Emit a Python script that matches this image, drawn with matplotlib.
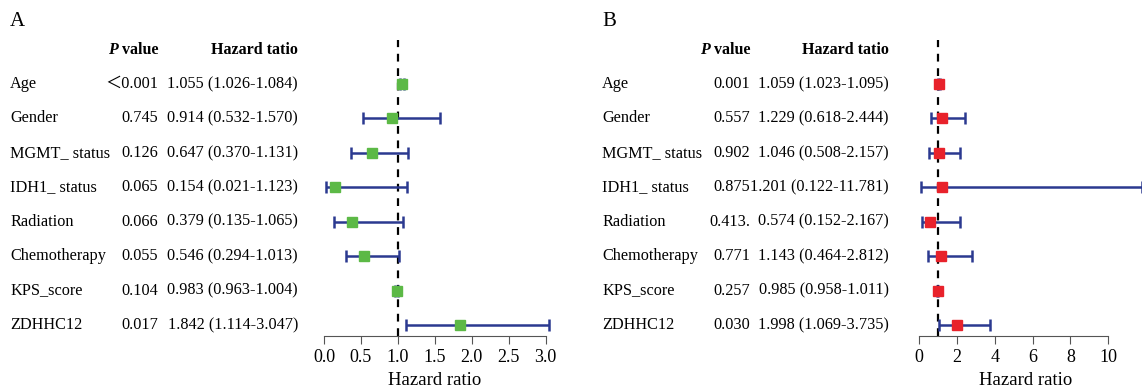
import numpy as np
import matplotlib.pyplot as plt
from matplotlib import transforms

plt.rcParams["font.family"] = ["Liberation Serif", "Noto Sans CJK SC", "DejaVu Serif"]

variables = ["Age", "Gender", "MGMT_ status", "IDH1_ status", "Radiation",
             "Chemotherapy", "KPS_score", "ZDHHC12"]

# Panel A
pval_a = ["＜0.001", "0.745", "0.126", "0.065", "0.066", "0.055", "0.104", "0.017"]
hr_a = [1.055, 0.914, 0.647, 0.154, 0.379, 0.546, 0.983, 1.842]
lo_a = [1.026, 0.532, 0.370, 0.021, 0.135, 0.294, 0.963, 1.114]
hi_a = [1.084, 1.570, 1.131, 1.123, 1.065, 1.013, 1.004, 3.047]
hr_text_a = ["1.055 (1.026-1.084)", "0.914 (0.532-1.570)", "0.647 (0.370-1.131)",
             "0.154 (0.021-1.123)", "0.379 (0.135-1.065)", "0.546 (0.294-1.013)",
             "0.983 (0.963-1.004)", "1.842 (1.114-3.047)"]

# Panel B
pval_b = ["0.001", "0.557", "0.902", "0.875", "0.413.", "0.771", "0.257", "0.030"]
hr_b = [1.059, 1.229, 1.046, 1.201, 0.574, 1.143, 0.985, 1.998]
lo_b = [1.023, 0.618, 0.508, 0.122, 0.152, 0.464, 0.958, 1.069]
hi_b = [1.095, 2.444, 2.157, 11.781, 2.167, 2.812, 1.011, 3.735]
hr_text_b = ["1.059 (1.023-1.095)", "1.229 (0.618-2.444)", "1.046 (0.508-2.157)",
             "1.201 (0.122-11.781)", "0.574 (0.152-2.167)", "1.143 (0.464-2.812)",
             "0.985 (0.958-1.011)", "1.998 (1.069-3.735)"]

W, H = 1142, 392
fig = plt.figure(figsize=(W / 100, H / 100), dpi=100)

navy = "#2b3990"
rows = np.arange(len(variables), 0, -1)  # Age at top
FS = 11.7


def forest(ax_px, xlim, ticks, ticklabels, hr, lo, hi, color, bound):
    left, right = ax_px
    ax = fig.add_axes([left / W, 1 - 336 / H, (right - left) / W, (336 - 40) / H])
    ax.set_xlim(*xlim)
    ax.set_ylim(0.68, 9.28)
    ax.axvline(1, color="black", ls=(0, (3.5, 3)), lw=1.6, zorder=1)
    hr = np.array(hr)
    err = [hr - np.array(lo), np.array(hi) - hr]
    ax.errorbar(hr, rows, xerr=err, fmt="none", ecolor=navy, elinewidth=1.8,
                capsize=4.5, capthick=1.8, zorder=2)
    ax.plot(hr, rows, "s", color=color, ms=7.5, zorder=3, ls="none")
    for s in ["top", "right", "left"]:
        ax.spines[s].set_visible(False)
    ax.spines["bottom"].set_bounds(*bound)
    ax.spines["bottom"].set_color("#555555")
    ax.set_yticks([])
    ax.set_xticks(ticks)
    ax.set_xticklabels(ticklabels, fontsize=13)
    ax.tick_params(axis="x", length=6, color="#555555", pad=3)
    ax.set_xlabel("Hazard ratio", fontsize=13.5, labelpad=5)
    return ax


def table(ax, x_name, x_p, x_hr, label, x_label, pvals, hrtexts):
    tr = transforms.blended_transform_factory(fig.transFigure, ax.transData)
    fig.text(x_label / W, 1 - 21 / H, label, fontsize=15, va="center", ha="left")
    for y, name, p, t in zip(rows, variables, pvals, hrtexts):
        ax.text(x_name / W, y, name, transform=tr, fontsize=FS, va="center", ha="left", clip_on=False)
        ax.text(x_p / W, y, p, transform=tr, fontsize=FS, va="center", ha="right", clip_on=False)
        ax.text(x_hr / W, y, t, transform=tr, fontsize=FS, va="center", ha="right", clip_on=False)
    v = ax.text(x_p / W, 9, " value", transform=tr, fontsize=11.5, fontweight="bold",
                va="center", ha="right", clip_on=False)
    r = fig.canvas.get_renderer()
    bb = v.get_window_extent(r)
    ax.text(bb.x0 / W, 9, "P", transform=tr, fontsize=11.5, fontweight="bold",
            fontstyle="italic", va="center", ha="right", clip_on=False)
    ax.text(x_hr / W, 9, "Hazard tatio", transform=tr, fontsize=11.5, fontweight="bold",
            va="center", ha="right", clip_on=False)


ua = 73.9
ax_a = forest((318, 552), ((318 - 324) / ua, (552 - 324) / ua),
              np.arange(0, 3.01, 0.5), ["%.1f" % t for t in np.arange(0, 3.01, 0.5)],
              hr_a, lo_a, hi_a, "#5cb946", (0, 3))
table(ax_a, 10, 158, 298, "A", 10, pval_a, hr_text_a)

ub = 18.93
ax_b = forest((910, 1142), ((910 - 919) / ub, (1142 - 919) / ub),
              np.arange(0, 11, 2), [str(t) for t in range(0, 11, 2)],
              hr_b, lo_b, hi_b, "#e8222b", (0, 10))
table(ax_b, 602, 750, 889, "B", 602, pval_b, hr_text_b)

fig.savefig("out.png", dpi=100)
